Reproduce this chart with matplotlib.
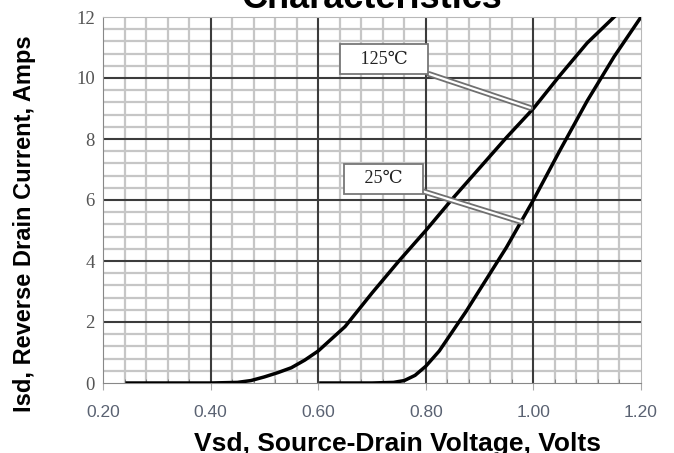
import matplotlib
matplotlib.use("Agg")
import matplotlib.pyplot as plt
import matplotlib.patheffects as pe
from matplotlib.ticker import MultipleLocator

# Vsd (V) vs Isd (A)
vsd_125 = [0.245, 0.30, 0.35, 0.40, 0.45, 0.475, 0.50, 0.525, 0.55, 0.575, 0.60,
           0.65, 0.70, 0.75, 0.80, 0.85, 0.90, 0.95, 1.00, 1.05, 1.10, 1.15]
isd_125 = [0.0, 0.0, 0.0, 0.0, 0.02, 0.08, 0.2, 0.34, 0.5, 0.75, 1.05,
           1.85, 2.95, 4.0, 5.0, 6.05, 7.05, 8.05, 9.0, 10.1, 11.15, 12.0]

vsd_25 = [0.605, 0.65, 0.70, 0.74, 0.76, 0.78, 0.80, 0.825, 0.85, 0.875,
          0.90, 0.95, 1.00, 1.05, 1.10, 1.15, 1.20]
isd_25 = [0.0, 0.0, 0.0, 0.02, 0.08, 0.25, 0.55, 1.05, 1.7, 2.35,
          3.05, 4.45, 6.0, 7.65, 9.25, 10.7, 12.0]

x_ticks = [0.20, 0.40, 0.60, 0.80, 1.00, 1.20]
y_ticks = [0, 2, 4, 6, 8, 10, 12]

labels = ["125\u2103", "25\u2103"]
label_pos = [(0.723, 10.62), (0.721, 6.69)]
label_tip = [(0.994, 9.02), (0.978, 5.28)]

fig = plt.figure(figsize=(6.74, 4.53), dpi=100)
ax = fig.add_axes([103 / 674, 70 / 453, 538 / 674, 366 / 453])

ax.set_xlim(0.2, 1.2)
ax.set_ylim(0, 12)
ax.set_xticks(x_ticks)
ax.set_xticklabels(["%.2f" % v for v in x_ticks])
ax.set_yticks(y_ticks)
ax.xaxis.set_minor_locator(MultipleLocator(0.04))
ax.yaxis.set_minor_locator(MultipleLocator(0.4))

# light minor grid, then dark major lines on top of it
ax.grid(which="minor", color="#c6c6c6", linewidth=1.6)
ax.set_axisbelow(True)
for v in x_ticks[1:-1]:
    ax.axvline(v, color="#3c3c3c", linewidth=1.5, zorder=1.5)
for v in y_ticks[1:-1]:
    ax.axhline(v, color="#3c3c3c", linewidth=1.5, zorder=1.5)

for s in ["left", "bottom"]:
    ax.spines[s].set_color("#888888")
for s in ["top", "right"]:
    ax.spines[s].set_color("#b8b8b8")

ax.tick_params(axis="x", which="major", direction="out", length=5,
               color="#aaaaaa", pad=11, labelsize=12.5, labelcolor="#5a6272")
ax.tick_params(axis="x", which="minor", direction="in", length=3,
               color="#777777")
ax.tick_params(axis="y", which="both", length=0, pad=6,
               labelsize=13.5, labelcolor="#555555")
for t in ax.get_yticklabels():
    t.set_family("Liberation Serif")
for t in ax.get_xticklabels():
    t.set_family("Liberation Sans")

ax.plot(vsd_125, isd_125, color="black", linewidth=2.5, zorder=3)
ax.plot(vsd_25, isd_25, color="black", linewidth=2.5, zorder=3)

for txt, pos, tip in zip(labels, label_pos, label_tip):
    ax.annotate("   " + txt + "   ", xy=tip, xytext=pos, ha="center", va="center",
                fontsize=13, color="#222222", zorder=4,
                family=["Liberation Serif", "DejaVu Serif", "DejaVu Sans"],
                bbox=dict(boxstyle="square,pad=0.38", fc="white",
                          ec="#777777", lw=1.3),
                arrowprops=dict(arrowstyle="-", color="white", lw=1.6,
                                shrinkA=0, shrinkB=0,
                                path_effects=[pe.Stroke(linewidth=4.2, foreground="#707070"),
                                              pe.Normal()]))

fig.text(372 / 674, 1 - 8 / 453, "Characteristics", ha="center", va="baseline",
         fontsize=26, fontweight="bold", family="Liberation Sans")
fig.text(397 / 674, 1 - 451 / 453, "Vsd, Source-Drain Voltage, Volts",
         ha="center", va="baseline", fontsize=19, fontweight="bold",
         family="Liberation Sans")
fig.text(25 / 674, 0.5 + 3 / 453, "Isd, Reverse Drain Current, Amps",
         ha="center", va="center", rotation=90, fontsize=17,
         fontweight="bold", family="Liberation Sans")

fig.savefig("out.png", dpi=100)
